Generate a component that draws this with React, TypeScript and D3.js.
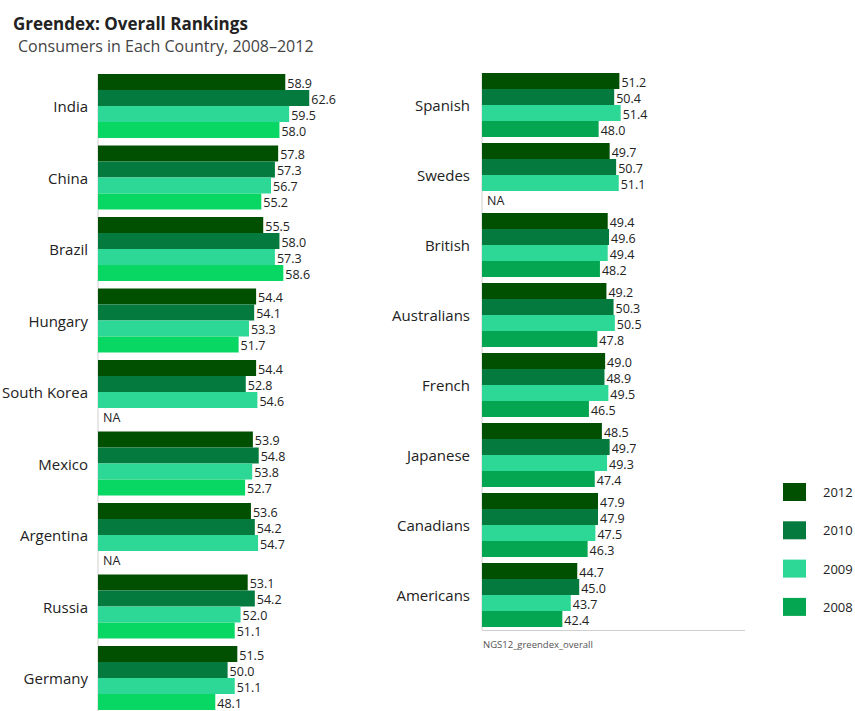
import React from "react";
import * as d3 from "d3";

const years = ["2012", "2010", "2009", "2008"];

const leftCountries = ["India", "China", "Brazil", "Hungary", "South Korea", "Mexico", "Argentina", "Russia", "Germany"];
const left2012 = [58.9, 57.8, 55.5, 54.4, 54.4, 53.9, 53.6, 53.1, 51.5];
const left2010 = [62.6, 57.3, 58.0, 54.1, 52.8, 54.8, 54.2, 54.2, 50.0];
const left2009 = [59.5, 56.7, 57.3, 53.3, 54.6, 53.8, 54.7, 52.0, 51.1];
const left2008: (number | null)[] = [58.0, 55.2, 58.6, 51.7, null, 52.7, null, 51.1, 48.1];

const rightCountries = ["Spanish", "Swedes", "British", "Australians", "French", "Japanese", "Canadians", "Americans"];
const right2012 = [51.2, 49.7, 49.4, 49.2, 49.0, 48.5, 47.9, 44.7];
const right2010 = [50.4, 50.7, 49.6, 50.3, 48.9, 49.7, 47.9, 45.0];
const right2009 = [51.4, 51.1, 49.4, 50.5, 49.5, 49.3, 47.5, 43.7];
const right2008: (number | null)[] = [48.0, null, 48.2, 47.8, 46.5, 47.4, 46.3, 42.4];

const colors2012 = "#014f01";
const colors2010 = "#047a3e";
const colors2009 = "#2dd896";
const leftColor2008 = "#08d764";
const rightColor2008 = "#05a651";
const legendColors = [colors2012, colors2010, colors2009, rightColor2008];

const FONT = "'Open Sans', 'Noto Sans', sans-serif";

type Panel = {
  cats: string[];
  series: (number | null)[][];
  colors: string[];
  x0: number;
  labelX: number;
  yTop: number;
  step: number;
};

const x = d3.scaleLinear().domain([30, 70]).range([0, 40 * 6.48]);

function PanelView({ p, axisBottom }: { p: Panel; axisBottom: number }) {
  const n = p.cats.length;
  const groupH = 64;
  const gy = d3
    .scaleBand<string>()
    .domain(p.cats)
    .range([p.yTop, p.yTop + (n - 1) * p.step + groupH])
    .paddingInner((p.step - groupH) / p.step)
    .paddingOuter(0);
  const by = d3.scaleBand<string>().domain(years).range([0, gy.bandwidth()]).padding(0);
  return (
    <g>
      <line x1={p.x0} x2={p.x0} y1={p.yTop} y2={axisBottom} stroke="#cfcfcf" strokeWidth={1} />
      {p.cats.map((c, i) => {
        const g0 = gy(c)!;
        return (
          <g key={c}>
            <text
              x={p.labelX}
              y={g0 + gy.bandwidth() / 2}
              textAnchor="end"
              dominantBaseline="central"
              fontSize={15}
              fill="#222"
              fontFamily={FONT}
            >
              {c}
            </text>
            {years.map((yr, j) => {
              const v = p.series[j][i];
              const yy = g0 + by(yr)!;
              if (v == null) {
                return (
                  <text
                    key={yr}
                    x={p.x0 + 5}
                    y={yy + by.bandwidth() / 2 + 1}
                    dominantBaseline="central"
                    fontSize={12.5}
                    fill="#222"
                    fontFamily={FONT}
                  >
                    NA
                  </text>
                );
              }
              const w = x(v);
              return (
                <g key={yr}>
                  <rect x={p.x0} y={yy} width={w} height={by.bandwidth()} fill={p.colors[j]} />
                  <text
                    x={p.x0 + w + 2}
                    y={yy + by.bandwidth() / 2 + 1}
                    dominantBaseline="central"
                    fontSize={12.5}
                    fill="#222"
                    fontFamily={FONT}
                  >
                    {v.toFixed(1)}
                  </text>
                </g>
              );
            })}
          </g>
        );
      })}
    </g>
  );
}

export default function App() {
  const leftPanel: Panel = {
    cats: leftCountries,
    series: [left2012, left2010, left2009, left2008],
    colors: [colors2012, colors2010, colors2009, leftColor2008],
    x0: 98,
    labelX: 88,
    yTop: 74,
    step: 71.5,
  };
  const rightPanel: Panel = {
    cats: rightCountries,
    series: [right2012, right2010, right2009, right2008],
    colors: [colors2012, colors2010, colors2009, rightColor2008],
    x0: 482,
    labelX: 470,
    yTop: 73,
    step: 70,
  };
  return (
    <svg
      width={855}
      height={711}
      style={{ position: "absolute", left: 0, top: 0, background: "#fff" }}
    >
      <rect x={0} y={0} width={855} height={711} fill="#fff" />
      <text x={13} y={30} fontSize={17} fontWeight="bold" fill="#222" fontFamily={FONT}>
        Greendex: Overall Rankings
      </text>
      <text x={18} y={52} fontSize={16} fill="#444" fontFamily={FONT}>
        Consumers in Each Country, 2008–2012
      </text>
      <PanelView p={leftPanel} axisBottom={711} />
      <PanelView p={rightPanel} axisBottom={630} />
      <line x1={482} x2={745} y1={630.5} y2={630.5} stroke="#cfcfcf" strokeWidth={1} />
      <text x={483} y={644} dominantBaseline="central" fontSize={9.5} fill="#555" fontFamily={FONT}>
        NGS12_greendex_overall
      </text>
      {years.map((yr, i) => {
        const yy = 483 + i * 38.3;
        return (
          <g key={yr}>
            <rect x={783} y={yy} width={23} height={18} fill={legendColors[i]} />
            <text x={823} y={yy + 9} dominantBaseline="central" fontSize={13} fill="#222" fontFamily={FONT}>
              {yr}
            </text>
          </g>
        );
      })}
    </svg>
  );
}
